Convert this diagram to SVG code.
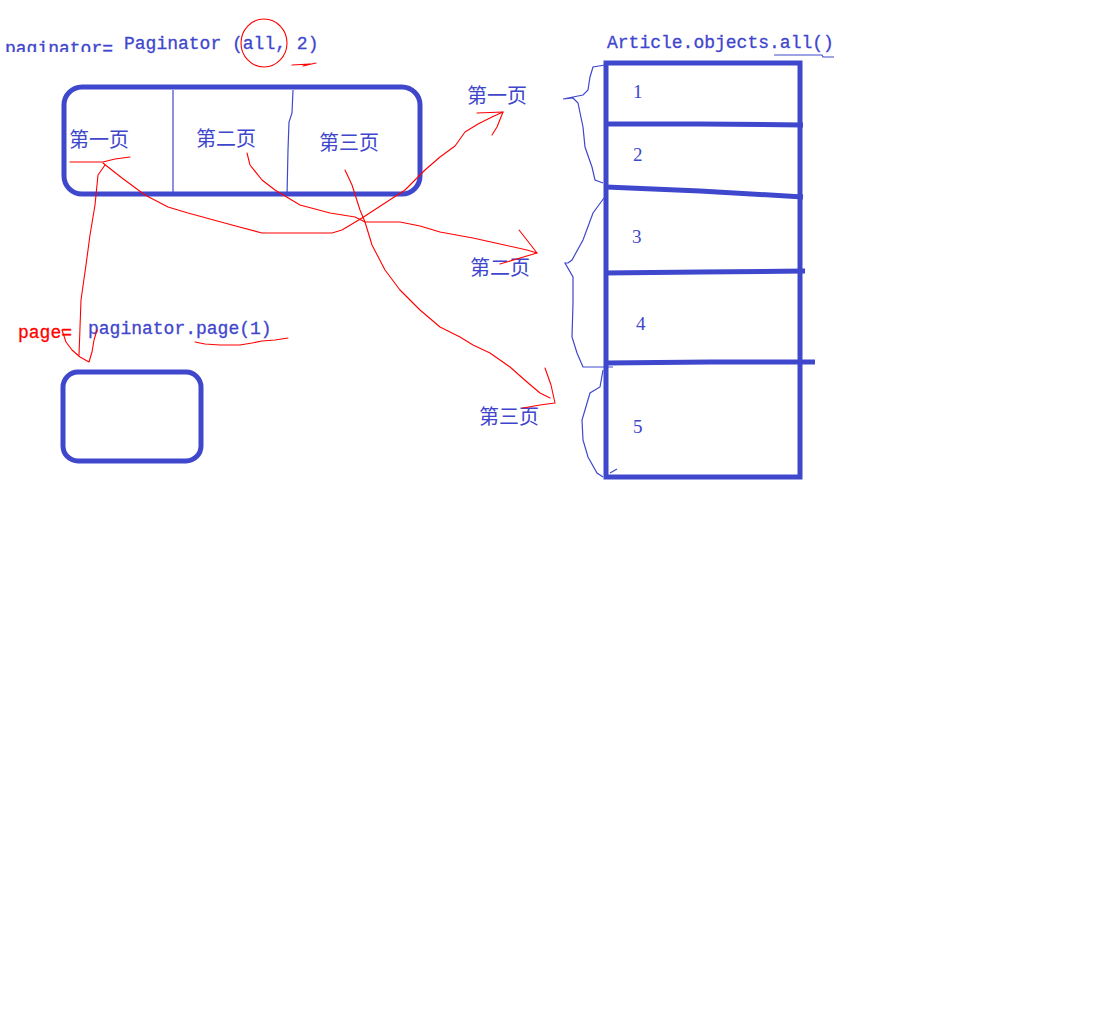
<svg xmlns="http://www.w3.org/2000/svg" width="1116" height="1022" viewBox="0 0 1116 1022">
<defs>
<style>
.box{fill:none;stroke:#3f48cc;stroke-width:5}
.thin{fill:none;stroke:#3f48cc;stroke-width:1.2}
.red{fill:none;stroke:#ff0000;stroke-width:1.1;stroke-linejoin:round;stroke-linecap:round}
.code{font-family:"Liberation Mono",monospace;font-size:18px;fill:#4046cc;stroke:#4046cc;stroke-width:0.3}
.cn{font-family:"Liberation Serif","Noto Sans CJK SC",serif;font-size:20px;fill:#4046cc}
.num{font-family:"Liberation Serif",serif;font-size:19px;fill:#4046cc}
.redtxt{font-family:"Liberation Mono",monospace;font-size:18px;fill:#ff0000;stroke:#ff0000;stroke-width:0.3}
</style>
<clipPath id="clipTop"><rect x="0" y="0" width="130" height="52"/></clipPath>
</defs>
<rect width="1116" height="1022" fill="#ffffff"/>

<g id="title-paginator">
<text class="code" x="5" y="54" clip-path="url(#clipTop)">paginator=</text>
<text class="code" x="124" y="49">Paginator (all, 2)</text>
<ellipse cx="264" cy="43" rx="23" ry="24" class="red"/>
<polyline class="red" points="292,65 310,64 303,66 316,63"/>
</g>

<g id="paginator-box">
<rect class="box" x="64" y="87" width="356" height="107" rx="18"/>
<line class="thin" x1="173" y1="90" x2="173" y2="192"/>
<polyline class="thin" points="293,90 292,113 289,122 288,150 287,196"/>
<text class="cn" x="69" y="147">第一页</text>
<text class="cn" x="196" y="146">第二页</text>
<text class="cn" x="319" y="150">第三页</text>
</g>

<g id="page-label">
<text class="redtxt" x="18" y="338">page=</text>
<text class="code" x="88" y="334">paginator.page(1)</text>
<polyline class="red" points="195,342 205,344 220,345 240,345 252,343 262,341 275,340 288,338"/>
</g>

<g id="page-box">
<rect class="box" x="63" y="372" width="138" height="89" rx="15"/>
</g>

<g id="article-title">
<text class="code" x="607" y="48">Article.objects.all()</text>
<polyline class="thin" points="774,55 822,55 823,57 834,57"/>
</g>

<g id="article-table">
<rect class="box" x="606" y="63" width="194" height="414"/>
<polyline class="box" points="606,124 700,124 803,125"/>
<polyline class="box" points="606,187 700,191 803,197"/>
<polyline class="box" points="604,273 700,272 805,271"/>
<polyline class="box" points="606,363 710,362 815,362"/>
<text class="num" x="633" y="98">1</text>
<text class="num" x="633" y="161">2</text>
<text class="num" x="632" y="243">3</text>
<text class="num" x="636" y="330">4</text>
<text class="num" x="633" y="433">5</text>
</g>

<g id="braces">
<polyline class="thin" points="605,65 593,67 590,77 588,90 583,95 573,97 563,99 573,98 578,103 583,127 585,147 592,167 595,180 603,183"/>
<polyline class="thin" points="604,198 593,213 583,240 572,260 568,263 565,263 573,277 573,303 572,337 577,353 583,367 613,367"/>
<polyline class="thin" points="603,370 600,387 590,393 582,420 583,440 588,457 597,473 603,477"/>
<polyline class="thin" points="610,473 617,469"/>
</g>

<g id="page-labels-right">
<text class="cn" x="467" y="103">第一页</text>
<text class="cn" x="470" y="275">第二页</text>
<text class="cn" x="479" y="424">第三页</text>
</g>

<g id="connectors">
<polyline class="red" points="70,162 103,162 115,159 130,157"/>
<polyline class="red" points="105,165 98,175 95,205 90,235 86,265 81,300 79,355"/>
<polyline class="red" points="62,330 66,342 72,350 80,357 89,362 92,352 94,340 97,330"/>
<polyline class="red" points="103,163 108,167 122,178 145,195 168,207 188,213 232,225 262,233 332,233 342,230 362,218 405,190 425,170 440,157 455,146 465,132 478,124 492,117 503,112"/>
<polyline class="red" points="477,113 503,112 497,127 492,135"/>
<polyline class="red" points="247,153 250,165 262,180 275,190 300,205 330,213 355,217 365,222 400,222 420,226 440,232 473,238 500,244 527,250 537,253"/>
<polyline class="red" points="519,230 530,244 537,253 520,258 500,264"/>
<polyline class="red" points="345,170 352,185 360,210 365,222 372,245 385,270 400,290 420,310 440,327 460,337 473,345 490,353 510,367 527,382 540,393 550,398"/>
<polyline class="red" points="545,368 551,385 555,403 540,405 523,408"/>
</g>
</svg>
